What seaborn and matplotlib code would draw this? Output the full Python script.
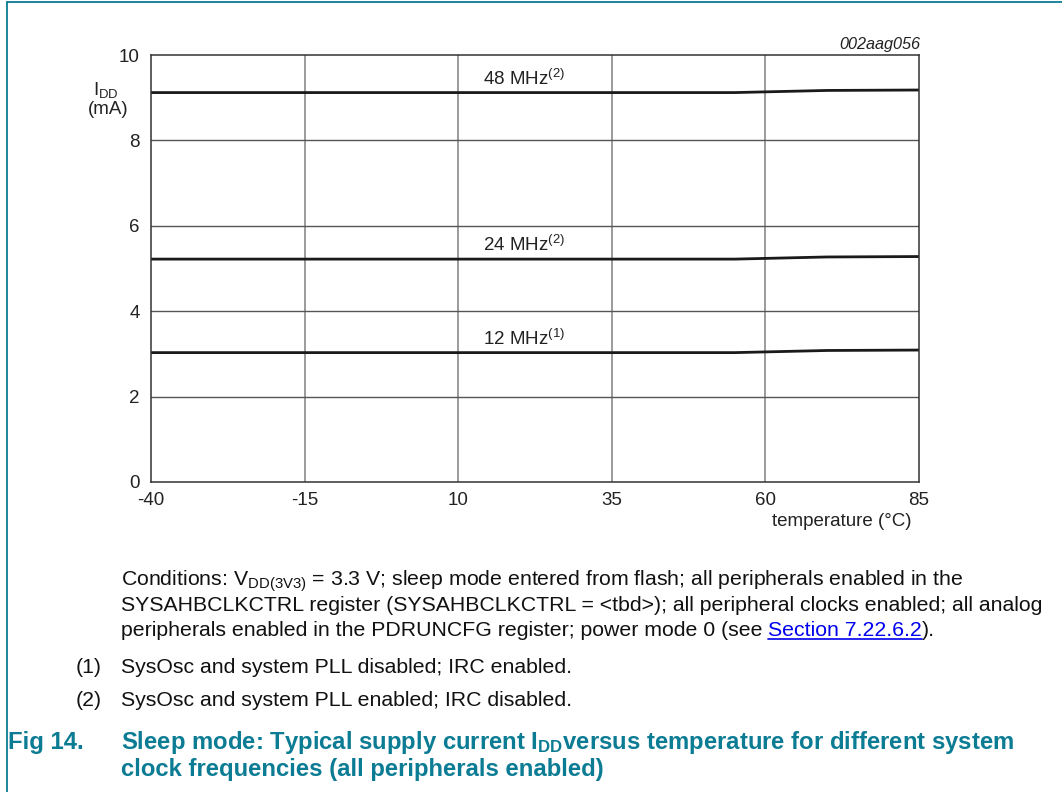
import matplotlib
matplotlib.use("Agg")
import matplotlib.pyplot as plt
import seaborn as sns
import pandas as pd
from matplotlib.lines import Line2D

# ---- data ----
temperature = [-40, -15, 10, 35, 55, 70, 85]
idd_48 = [9.12, 9.12, 9.12, 9.12, 9.12, 9.17, 9.18]
idd_24 = [5.22, 5.22, 5.22, 5.22, 5.22, 5.27, 5.28]
idd_12 = [3.03, 3.03, 3.03, 3.03, 3.03, 3.08, 3.09]
series_names = ["48 MHz", "24 MHz", "12 MHz"]
series_notes = ["(2)", "(2)", "(1)"]
x_ticks = [-40, -15, 10, 35, 60, 85]
y_ticks = [0, 2, 4, 6, 8, 10]

sns.set_theme(style="white")
plt.rcParams['font.family'] = ['Liberation Sans', 'DejaVu Sans']
plt.rcParams['mathtext.fontset'] = 'custom'
plt.rcParams['mathtext.rm'] = 'Liberation Sans'
plt.rcParams['mathtext.it'] = 'Liberation Sans:italic'
plt.rcParams['mathtext.bf'] = 'Liberation Sans:bold'

TEAL = "#0b7c94"
W, H = 1062, 792

def fx(px):
    return px / W

def fy(py):
    return 1 - py / H

rows = []
for name, vals in zip(series_names, [idd_48, idd_24, idd_12]):
    for t, v in zip(temperature, vals):
        rows.append({"temperature": t, "idd": v, "series": name})
df = pd.DataFrame(rows)

fig = plt.figure(figsize=(10.62, 7.92), dpi=100)
ax = fig.add_axes([fx(151), fy(482), (919 - 151) / W, (482 - 55) / H])

sns.lineplot(data=df, x="temperature", y="idd", units="series", estimator=None,
             color="#1a1a1a", linewidth=2.0, ax=ax, legend=False)

cfs = 13.5
ax.set_xlim(-40, 85)
ax.set_ylim(0, 10)
ax.set_xticks(x_ticks)
ax.set_yticks(y_ticks)
ax.set_xticklabels([str(v) for v in x_ticks], fontsize=cfs, color="#222222")
ax.set_yticklabels([str(v) for v in y_ticks], fontsize=cfs, color="#222222")
ax.tick_params(axis="x", length=0, pad=7)
ax.tick_params(axis="y", length=0, pad=8)
ax.set_xlabel("")
ax.set_ylabel("")
for v in x_ticks[1:-1]:
    ax.axvline(v, color="#8a8a8a", linewidth=1.2, zorder=0)
for v in y_ticks[1:-1]:
    ax.axhline(v, color="#555555", linewidth=1.0, zorder=0)
for s in ax.spines.values():
    s.set_color("#333333")
    s.set_linewidth(1.1)

# curve labels
for name, note, vals in zip(series_names, series_notes, [idd_48, idd_24, idd_12]):
    ax.text(14.0, vals[0] + 0.32, name + r"$^{\mathregular{" + note + "}}$", fontsize=cfs,
            color="#222222", ha="left", va="center")

# axis labels
fig.text(fx(93), fy(90), r"I$_{\mathregular{DD}}$", fontsize=cfs, ha="left", va="center", color="#222222")
fig.text(fx(108), fy(110), "(mA)", fontsize=cfs, ha="center", va="center", color="#222222")
fig.text(fx(911), fy(522), "temperature (°C)", fontsize=cfs, ha="right", va="center", color="#222222")
fig.text(fx(920), fy(44), "002aag056", fontsize=11.7, ha="right", va="center",
         style="italic", color="#222222")

# border
fig.add_artist(Line2D([fx(7), fx(7)], [0, fy(2)], transform=fig.transFigure, color=TEAL, linewidth=1.3))
fig.add_artist(Line2D([fx(7), 1], [fy(2), fy(2)], transform=fig.transFigure, color=TEAL, linewidth=1.3))

# notes
fs = 15.3
txt = "#111111"
fig.text(fx(121), fy(586), r"Conditions: V$_{\mathregular{DD(3V3)}}$ = 3.3 V; sleep mode entered from flash; all peripherals enabled in the",
         fontsize=fs, ha="left", va="baseline", color=txt)
fig.text(fx(121), fy(611), "SYSAHBCLKCTRL register (SYSAHBCLKCTRL = <tbd>); all peripheral clocks enabled; all analog",
         fontsize=fs, ha="left", va="baseline", color=txt)
t3 = fig.text(fx(121), fy(636), "peripherals enabled in the PDRUNCFG register; power mode 0 (see ",
              fontsize=fs, ha="left", va="baseline", color=txt)
r = fig.canvas.get_renderer()
bb = t3.get_window_extent(renderer=r)
x1 = bb.x1 / fig.bbox.width
t4 = fig.text(x1, fy(636), "Section 7.22.6.2", fontsize=fs, ha="left", va="baseline", color="#0000ee")
bb4 = t4.get_window_extent(renderer=r)
x2 = bb4.x1 / fig.bbox.width
fig.add_artist(Line2D([x1, x2], [fy(639), fy(639)], transform=fig.transFigure, color="#0000ee", linewidth=1.2))
fig.text(x2, fy(636), ").", fontsize=fs, ha="left", va="baseline", color=txt)

fig.text(fx(76), fy(673), "(1)", fontsize=fs, ha="left", va="baseline", color=txt)
fig.text(fx(121), fy(673), "SysOsc and system PLL disabled; IRC enabled.", fontsize=fs, ha="left", va="baseline", color=txt)
fig.text(fx(76), fy(706), "(2)", fontsize=fs, ha="left", va="baseline", color=txt)
fig.text(fx(121), fy(706), "SysOsc and system PLL enabled; IRC disabled.", fontsize=fs, ha="left", va="baseline", color=txt)

tfs = 17.2
fig.text(fx(8), fy(749), "Fig 14.", fontsize=tfs, fontweight="bold", ha="left", va="baseline", color=TEAL)
fig.text(fx(121), fy(749), r"Sleep mode: Typical supply current I$_{\mathbf{DD}}$versus temperature for different system",
         fontsize=tfs, fontweight="bold", ha="left", va="baseline", color=TEAL)
fig.text(fx(121), fy(776), "clock frequencies (all peripherals enabled)",
         fontsize=tfs, fontweight="bold", ha="left", va="baseline", color=TEAL)

fig.savefig("out.png", dpi=100)
